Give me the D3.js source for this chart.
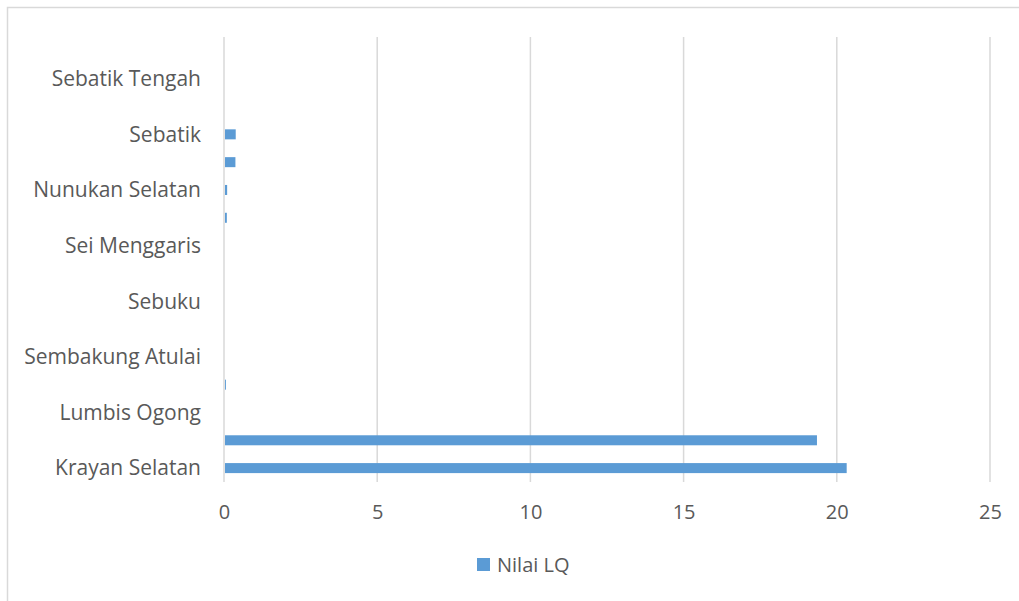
<!DOCTYPE html>
<html>
<head>
<meta charset="utf-8">
<script src="https://cdn.jsdelivr.net/npm/d3@7"></script>
<style>
  html, body { margin: 0; padding: 0; background: #ffffff; }
  svg { display: block; }
  text { font-family: "Open Sans", Lato, sans-serif; fill: #595959; }
</style>
</head>
<body>
<svg id="chart" width="1019" height="601"></svg>
<script>
// Kecamatan, listed bottom to top as stacked on the category axis
const categories = [
  "Krayan Selatan", "Krayan", "Lumbis Ogong", "Lumbis",
  "Sembakung Atulai", "Sembakung", "Sebuku", "Tulin Onsoi",
  "Sei Menggaris", "Nunukan", "Nunukan Selatan", "Sebatik Barat",
  "Sebatik", "Sebatik Timur", "Sebatik Tengah", "Sebatik Utara"
];
// Location quotient per kecamatan
const nilaiLQ = [
  20.29, 19.32, 0, 0.03,
  0, 0, 0, 0,
  0, 0.06, 0.07, 0.34,
  0.35, 0, 0, 0
];
const xTicks = [0, 5, 10, 15, 20, 25];
const seriesName = "Nilai LQ";

const svg = d3.select("#chart");
const FONT = "\"Open Sans\", Lato, sans-serif";

// outer chart frame
svg.append("rect")
  .attr("x", 7.5).attr("y", 7.5)
  .attr("width", 1030).attr("height", 620)
  .attr("fill", "none").attr("stroke", "#d9d9d9").attr("stroke-width", 1.5);

const x = d3.scaleLinear().domain([0, 25]).range([224, 990]);
const y = d3.scaleBand()
  .domain(categories.slice().reverse())
  .range([37, 482])
  .paddingInner(0.64).paddingOuter(0.32);

// vertical gridlines
svg.append("g").selectAll("line")
  .data(xTicks)
  .join("line")
  .attr("x1", d => x(d)).attr("x2", d => x(d))
  .attr("y1", 37).attr("y2", 482)
  .attr("stroke", "#d9d9d9").attr("stroke-width", 1.5);

// bars
svg.append("g").selectAll("rect")
  .data(categories.map((c, i) => ({ c, v: nilaiLQ[i] })))
  .join("rect")
  .attr("x", x(0) + 1)
  .attr("y", d => y(d.c))
  .attr("width", d => Math.max(0, x(d.v) - x(0)))
  .attr("height", y.bandwidth())
  .attr("fill", "#5b9bd5");

// value axis labels
const xAxis = d3.axisBottom(x).tickValues(xTicks).tickSize(0).tickPadding(0);
const gx = svg.append("g").attr("transform", "translate(0,482)").call(xAxis);
gx.select(".domain").remove();
gx.selectAll("text")
  .attr("dy", "0.35em").attr("y", 30)
  .style("font-size", "20px").style("font-family", FONT).attr("fill", "#595959");

// category axis labels (every second category shown)
const yAxis = d3.axisLeft(y)
  .tickValues(categories.filter((c, i) => i % 2 === 0))
  .tickSize(0).tickPadding(0);
const gy = svg.append("g").attr("transform", "translate(201,0)").call(yAxis);
gy.select(".domain").remove();
gy.selectAll("text")
  .attr("dy", "0.35em")
  .style("font-size", "21px").style("font-family", FONT).attr("fill", "#595959");

// legend
const legend = svg.append("g");
legend.append("rect")
  .attr("x", 477).attr("y", 558).attr("width", 13).attr("height", 13)
  .attr("fill", "#5b9bd5");
legend.append("text")
  .attr("x", 497).attr("y", 565).attr("dy", "0.35em")
  .style("font-size", "20px")
  .text(seriesName);
</script>
</body>
</html>
